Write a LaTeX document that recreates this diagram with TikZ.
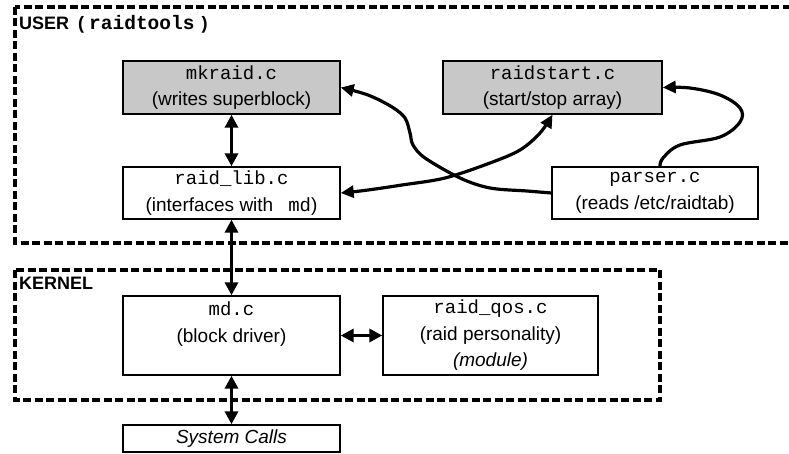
\documentclass[tikz,border=0pt]{standalone}
\usepackage{fontspec}
\setmainfont{Liberation Sans}
\setmonofont{Liberation Mono}
\usetikzlibrary{arrows.meta}
\definecolor{boxgray}{RGB}{200,200,200}
\tikzset{
  box/.style={draw, line width=1.4pt, inner sep=0pt, align=center,
    font=\fontsize{19}{26.5}\selectfont},
  graybox/.style={box, fill=boxgray},
  region/.style={line width=3.2pt, dash pattern=on 8pt off 3.5pt},
  regionlabel/.style={anchor=base west, inner sep=0pt, font=\fontsize{18}{20}\selectfont\bfseries},
  conn/.style={line width=3.5pt, {Triangle[length=13pt,width=13pt]}-{Triangle[length=13pt,width=13pt]}},
  curvearrow/.style={line width=3.2pt, -{Triangle[length=13pt,width=12pt]}, line join=round},
  curvedouble/.style={line width=3.2pt, {Triangle[length=13pt,width=12pt]}-{Triangle[length=13pt,width=12pt]}, line join=round},
}
\begin{document}
\begin{tikzpicture}[x=1pt,y=-1pt]
\useasboundingbox (0,0) rectangle (789,454);
\begin{scope}
  \clip (0,0) rectangle (789,454);
  \draw[region] (15,7) rectangle (805,243);
\end{scope}
\draw[region] (15,270) rectangle (660,400);
\node[regionlabel] (userlbl) at (19,30)
  {USER\hspace{9pt}(\hspace{5pt}{\fontsize{19.5}{20}\selectfont\texttt{raidtools}}\hspace{7pt})};
\node[regionlabel] (kernlbl) at (19,289) {KERNEL};

\node[graybox, minimum width=217pt, minimum height=53pt] (mkraid) at (231.5,87.5)
  {\texttt{mkraid.c}\\(writes superblock)};
\node[graybox, minimum width=219pt, minimum height=53pt] (raidstart) at (552.5,87.5)
  {\texttt{raidstart.c}\\(start/stop array)};
\node[box, minimum width=217pt, minimum height=52pt] (raidlib) at (231.5,193)
  {\texttt{raid\_lib.c}\\(interfaces with\hspace{15pt}\texttt{md})};
\node[box, minimum width=206pt, minimum height=52pt] (parser) at (655,193)
  {\texttt{parser.c}\\(reads /etc/raidtab)};
\node[box, minimum width=217pt, minimum height=79pt] (md) at (231.5,335.5)
  {\texttt{md.c}\\(block driver)\\\mbox{}};
\node[box, minimum width=215pt, minimum height=79pt] (qos) at (490.5,335.5)
  {\texttt{raid\_qos.c}\\(raid personality)\\\textit{(module)}};
\node[box, minimum width=217pt, minimum height=27pt] (sys) at (231.5,438.5)
  {\textit{System Calls}};

\draw[conn] (mkraid.south) -- (raidlib.north);
\draw[conn] (raidlib.south) -- (md.north);
\draw[conn] (md.south) -- (sys.north);
\draw[conn] (md.east) -- (qos.west);

\draw[curvearrow] plot[smooth, tension=0.55] coordinates {(parser.west) (527,191) (490,188)
  (460,178) (425,158) (413,145) (410,133) (405,118) (392,107) (368,95) (mkraid.east)};
\draw[curvedouble] plot[smooth, tension=0.55] coordinates {(raidlib.east) (368,190) (402,185)
  (445,178) (490,163) (520,150) (540,133) (raidstart.south)};
\draw[curvearrow] plot[smooth, tension=0.6] coordinates {([xshift=5pt]parser.north) (663,158)
  (680,145) (720,137) (740,122) (740,108) (720,95) (690,88) (raidstart.east)};
\end{tikzpicture}
\end{document}
